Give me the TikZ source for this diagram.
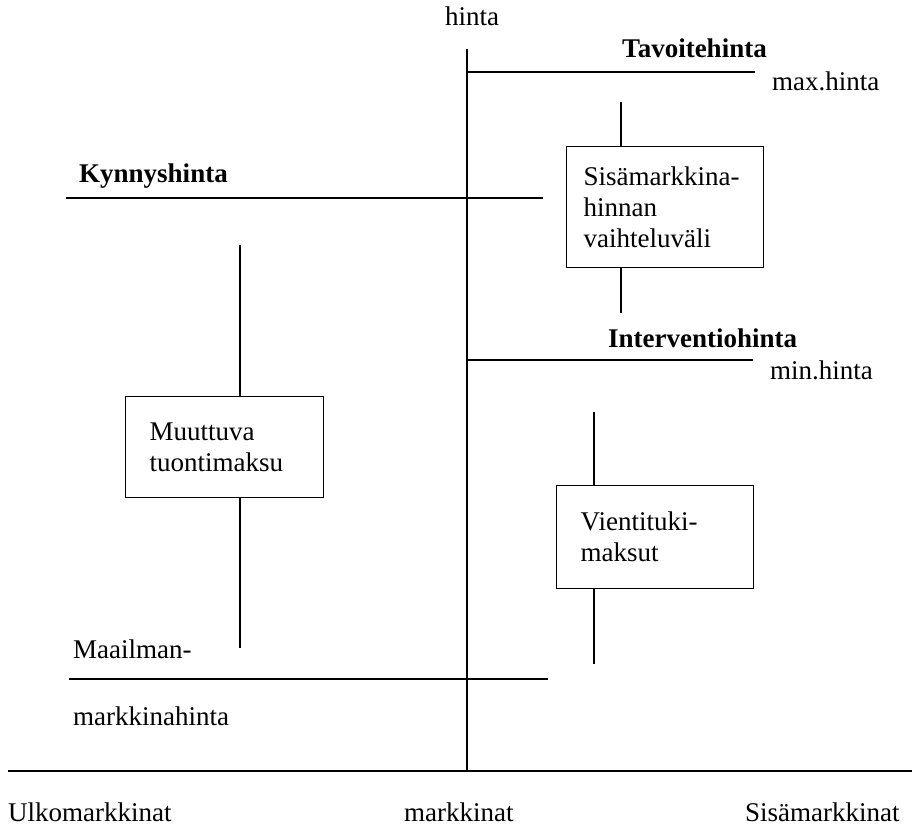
\documentclass[tikz,border=0pt]{standalone}
\usepackage{fontspec}
\setmainfont{Liberation Serif}
\begin{document}
\begin{tikzpicture}[x=1pt,y=-1pt,
  every node/.style={font=\fontsize{27}{31}\selectfont, inner sep=0pt},
  lbl/.style={anchor=base west},
  lblb/.style={anchor=base west, font=\fontsize{27}{31}\selectfont\bfseries},
  box/.style={draw, line width=1.3pt, anchor=north west, align=left, minimum height=#1},
  ln/.style={line width=1.2pt}]
\useasboundingbox (0,0) rectangle (912,827);

% axes
\coordinate (vtop) at (467,49);
\coordinate (vbot) at (467,771);
\coordinate (hl) at (8,771);
\coordinate (hr) at (912,771);
\draw[ln] (vtop) -- (vbot);
\draw[ln] (hl) -- (hr);

% price lines
\coordinate (tav1) at (467,72);   \coordinate (tav2) at (755,72);
\coordinate (kyn1) at (66,198);   \coordinate (kyn2) at (543,198);
\coordinate (int1) at (467,360);  \coordinate (int2) at (753,360);
\coordinate (maa1) at (69,679);   \coordinate (maa2) at (548,679);
\draw[ln] (tav1) -- (tav2);
\draw[ln] (kyn1) -- (kyn2);
\draw[ln] (int1) -- (int2);
\draw[ln] (maa1) -- (maa2);

% boxes
\node[box=121pt, inner xsep=17pt, text width=163pt] (sis) at (566,146)
  {Sisämarkkina-\\hinnan\\vaihteluväli};
\node[box=101pt, inner xsep=24pt, text width=150pt] (muu) at (125,396)
  {Muuttuva\\tuontimaksu};
\node[box=103pt, inner xsep=24pt, text width=149pt] (vie) at (556,485)
  {Vientituki-\\maksut};

% stubs
\coordinate (s1) at (621,102);
\coordinate (s2) at (621,313);
\coordinate (m1) at (240,245);
\coordinate (m2) at (240,648);
\coordinate (v1) at (594,412);
\coordinate (v2) at (594,664);
\draw[ln] (s1) -- (sis.north -| s1);
\draw[ln] (sis.south -| s2) -- (s2);
\draw[ln] (m1) -- (muu.north -| m1);
\draw[ln] (muu.south -| m2) -- (m2);
\draw[ln] (v1) -- (vie.north -| v1);
\draw[ln] (vie.south -| v2) -- (v2);

% labels
\node[lbl] (hinta) at (445,25) {hinta};
\node[lblb] (tavl) at (622,57) {Tavoitehinta};
\node[lbl] (maxl) at (772,90) {max.hinta};
\node[lblb] (kynl) at (79,182) {Kynnyshinta};
\node[lblb] (intl) at (608,347) {Interventiohinta};
\node[lbl] (minl) at (770,379) {min.hinta};
\node[lbl] (maal) at (73,658) {Maailman-};
\node[lbl] (mkhl) at (73,725) {markkinahinta};
\node[lbl] (ulk) at (8,821) {Ulkomarkkinat};
\node[lbl] (mark) at (404,821) {markkinat};
\node[lbl] (sism) at (745,821) {Sisämarkkinat};
\end{tikzpicture}
\end{document}
